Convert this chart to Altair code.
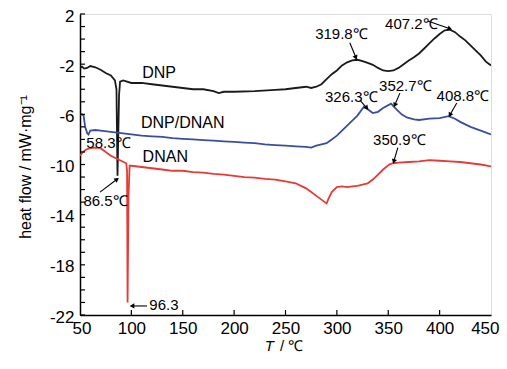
import math
import altair as alt
import pandas as pd

# ---------------- data ----------------
dnp_T = [50, 52, 54, 57, 60, 65, 70, 75, 80, 84, 85.5, 86.5, 88, 89, 92, 100, 110, 120, 130, 140, 150,
         160, 170, 180, 185, 190, 200, 220, 240, 250, 260, 270, 275, 280, 285, 290, 295, 300, 305,
         310, 315, 320, 325, 330, 335, 340, 345, 350, 355, 360, 365, 370, 375, 380, 385, 390, 395,
         400, 405, 410, 415, 420, 425, 430, 435, 440, 445, 450]
dnp_v = [-2.3, -2.2, -2.35, -2.3, -2.15, -2.25, -2.45, -2.7, -2.9, -3.3, -4.0, -10.9, -4.5, -3.4, -3.3,
         -3.5, -3.5, -3.6, -3.7, -3.8, -3.9, -4.0, -4.0, -4.15, -4.3, -4.2, -4.2, -4.15, -4.05, -4.0,
         -3.9, -3.8, -3.9, -3.8, -3.6, -3.2, -2.8, -2.5, -2.1, -1.85, -1.7, -1.65, -1.75, -1.9, -2.05,
         -2.3, -2.5, -2.55, -2.5, -2.3, -2.0, -1.7, -1.45, -1.15, -0.75, -0.35, 0.05, 0.4, 0.7, 0.75,
         0.55, 0.2, -0.1, -0.5, -0.9, -1.3, -1.8, -2.1]

mix_T = [50, 52, 53.5, 55, 57, 58.3, 60, 65, 70, 80, 90, 100, 110, 120, 130, 140, 150, 160, 170, 180,
         190, 200, 210, 220, 230, 240, 250, 260, 270, 275, 280, 285, 290, 295, 300, 305, 310, 315,
         320, 326.3, 330, 335, 340, 345, 352.7, 358, 363, 368, 375, 380, 390, 400, 408.8, 415, 420,
         425, 430, 440, 450]
mix_v = [-6.05, -6.0, -6.1, -7.0, -7.5, -7.6, -7.3, -7.25, -7.3, -7.4, -7.5, -7.6, -7.7, -7.75, -7.8,
         -7.9, -7.95, -8.0, -8.05, -8.1, -8.15, -8.2, -8.25, -8.3, -8.4, -8.45, -8.5, -8.55, -8.6,
         -8.65, -8.5, -8.4, -8.3, -8.0, -7.7, -7.3, -6.9, -6.5, -6.1, -5.4, -5.6, -5.9, -5.8, -5.5,
         -5.15, -5.6, -6.0, -6.25, -6.4, -6.45, -6.35, -6.3, -6.15, -6.35, -6.6, -6.8, -7.0, -7.3, -7.6]

dnan_T = [50, 53, 56, 60, 65, 70, 75, 80, 85, 90, 95, 95.8, 96.3, 97.2, 98.3, 100, 110, 120, 130, 140,
          150, 160, 170, 180, 190, 200, 210, 220, 230, 240, 250, 260, 265, 270, 275, 280, 285, 290,
          292, 295, 300, 305, 310, 315, 320, 325, 330, 335, 340, 345, 350.9, 355, 360, 370, 380, 390,
          400, 410, 420, 430, 440, 450]
dnan_v = [-9.3, -9.0, -8.8, -8.7, -8.65, -8.7, -9.0, -9.3, -9.5, -9.7, -9.9, -10.5, -21.0, -12.5, -10.1,
          -10.1, -10.2, -10.3, -10.4, -10.5, -10.5, -10.6, -10.65, -10.75, -10.8, -10.9, -11.0, -11.05,
          -11.15, -11.2, -11.35, -11.5, -11.7, -11.9, -12.2, -12.5, -12.8, -13.1, -12.7, -12.2, -11.8,
          -11.75, -11.8, -11.75, -11.7, -11.6, -11.5, -11.2, -10.8, -10.4, -10.0, -9.9, -9.85, -9.8,
          -9.75, -9.65, -9.7, -9.75, -9.8, -9.9, -10.0, -10.15]

series_names = ["DNP", "DNP/DNAN", "DNAN"]
series_colors = ["#1a1a1a", "#3a4e9e", "#e63a36"]

# series labels
lab_text = ["DNP", "DNP/DNAN", "DNAN"]
lab_T = [127, 150, 133]
lab_v = [-2.7, -6.7, -9.4]

# peak annotations
ann_text = ["319.8℃", "407.2℃", "326.3℃", "352.7℃", "408.8℃", "350.9℃", "58.3℃", "86.5℃", "96.3"]
ann_T = [304.4, 372.5, 314.0, 366.6, 422.6, 360.8, 77.7, 74.8, 131.7]
ann_v = [0.38, 1.17, -4.59, -3.76, -4.55, -8.02, -8.3, -12.88, -21.17]

# arrows (start -> end, end = arrow tip)
arr_T1 = [312.6, 388.5, 322.4, 361.3, 416.7, 359.3, 69.5, 115.2]
arr_v1 = [-0.29, 1.45, -4.87, -4.31, -5.1, -8.65, -12.2, -21.28]
arr_T2 = [318.5, 410.0, 329.2, 356.4, 410.0, 355.4, 86.0, 100.6]
arr_v2 = [-1.47, 0.82, -5.5, -5.26, -6.05, -9.76, -11.18, -21.28]

x_ticks = [100, 150, 200, 250, 300, 350, 400]
y_ticks = list(range(-22, 3))
x_labels = [50, 100, 150, 200, 250, 300, 350, 400, 450]
y_labels = [2, -2, -6, -10, -14, -18, -22]

# ---------------- layout ----------------
W, H = 411, 301
X_DOM = [50, 450]
Y_DOM = [-22, 2]
FONT = "Liberation Sans"

rows = []
for name, Ts, vs in zip(series_names, [dnp_T, mix_T, dnan_T], [dnp_v, mix_v, dnan_v]):
    for i, (t, v) in enumerate(zip(Ts, vs)):
        rows.append({"series": name, "T": t, "v": v, "i": i})
df = pd.DataFrame(rows)

xs = alt.Scale(domain=X_DOM, nice=False, zero=False)
ys = alt.Scale(domain=Y_DOM, nice=False, zero=False)

lines = alt.Chart(df).mark_line(strokeWidth=1.8, clip=True).encode(
    x=alt.X("T:Q", scale=xs, axis=alt.Axis(values=x_labels, ticks=False, labelFont=FONT,
                                            labelFontSize=17, labelPadding=5, labelColor="black",
                                            labelExpr="toString(datum.value)",
                                            domainColor="black", domainWidth=1.5, title=None,
                                            grid=False, labelFlush=True, labelFlushOffset=8)),
    y=alt.Y("v:Q", scale=ys, axis=alt.Axis(values=y_labels, ticks=False, labelFont=FONT,
                                            labelFontSize=17, labelPadding=6, labelColor="black",
                                            labelExpr="toString(datum.value)", labelOffset=2,
                                            domainColor="black", domainWidth=1.5, grid=False,
                                            labelFlush=False,
                                            title="heat flow / mW·mg⁻¹", titleFont=FONT,
                                            titleFontSize=16, titleFontWeight="normal",
                                            titleColor="black", titleX=-55, titleY=H / 2 + 2,
                                            titleAngle=270, titleAlign="center",
                                            titleBaseline="middle")),
    color=alt.Color("series:N", scale=alt.Scale(domain=series_names, range=series_colors), legend=None),
    order="i:Q",
    detail="series:N",
)

yt = alt.Chart(pd.DataFrame({"v": y_ticks})).mark_rule(color="black", strokeWidth=1.2).encode(
    y=alt.Y("v:Q", scale=ys), x=alt.value(0), x2=alt.value(5))
xt = alt.Chart(pd.DataFrame({"T": x_ticks})).mark_rule(color="black", strokeWidth=1.2).encode(
    x=alt.X("T:Q", scale=xs), y=alt.value(H), y2=alt.value(H - 5))

labels = alt.Chart(pd.DataFrame({"t": lab_text, "T": lab_T, "v": lab_v})).mark_text(
    font=FONT, fontSize=16, color="black").encode(
    x=alt.X("T:Q", scale=xs), y=alt.Y("v:Q", scale=ys), text="t:N")

ann = alt.Chart(pd.DataFrame({"t": ann_text, "T": ann_T, "v": ann_v})).mark_text(
    font=FONT, fontSize=15, color="black").encode(
    x=alt.X("T:Q", scale=xs), y=alt.Y("v:Q", scale=ys), text="t:N")

ang = []
for a, b, c, d in zip(arr_T1, arr_v1, arr_T2, arr_v2):
    dx = (c - a) * W / (X_DOM[1] - X_DOM[0])
    dy = -(d - b) * H / (Y_DOM[1] - Y_DOM[0])
    ang.append(math.degrees(math.atan2(dx, -dy)) % 360)
adf = pd.DataFrame({"T1": arr_T1, "v1": arr_v1, "T2": arr_T2, "v2": arr_v2, "ang": ang})

shafts = alt.Chart(adf).mark_rule(color="black", strokeWidth=1.1).encode(
    x=alt.X("T1:Q", scale=xs), y=alt.Y("v1:Q", scale=ys), x2="T2:Q", y2="v2:Q")
heads = alt.Chart(adf).mark_point(shape="triangle-up", filled=True, color="black", size=28,
                                  opacity=1).encode(
    x=alt.X("T2:Q", scale=xs), y=alt.Y("v2:Q", scale=ys),
    angle=alt.Angle("ang:Q", scale=None))

xtitle_T = alt.Chart(pd.DataFrame({"t": ["T"]})).mark_text(
    font=FONT, fontSize=15, fontStyle="italic", color="black", align="right").encode(
    x=alt.value(194), y=alt.value(H + 31), text="t:N")
xtitle_rest = alt.Chart(pd.DataFrame({"t": ["/ ℃"]})).mark_text(
    font=FONT, fontSize=15, color="black", align="left").encode(
    x=alt.value(200), y=alt.value(H + 31), text="t:N")

chart = alt.layer(lines, yt, xt, labels, ann, shafts, heads, xtitle_T, xtitle_rest).properties(
    width=W, height=H,
    autosize=alt.AutoSizeParams(type="none"),
    padding={"left": 72, "top": 6, "right": 8, "bottom": 40},
).configure_view(stroke="black", strokeWidth=1.5).configure(background="white")

chart.save("out.html", embed_options={"renderer": "svg", "actions": False})
